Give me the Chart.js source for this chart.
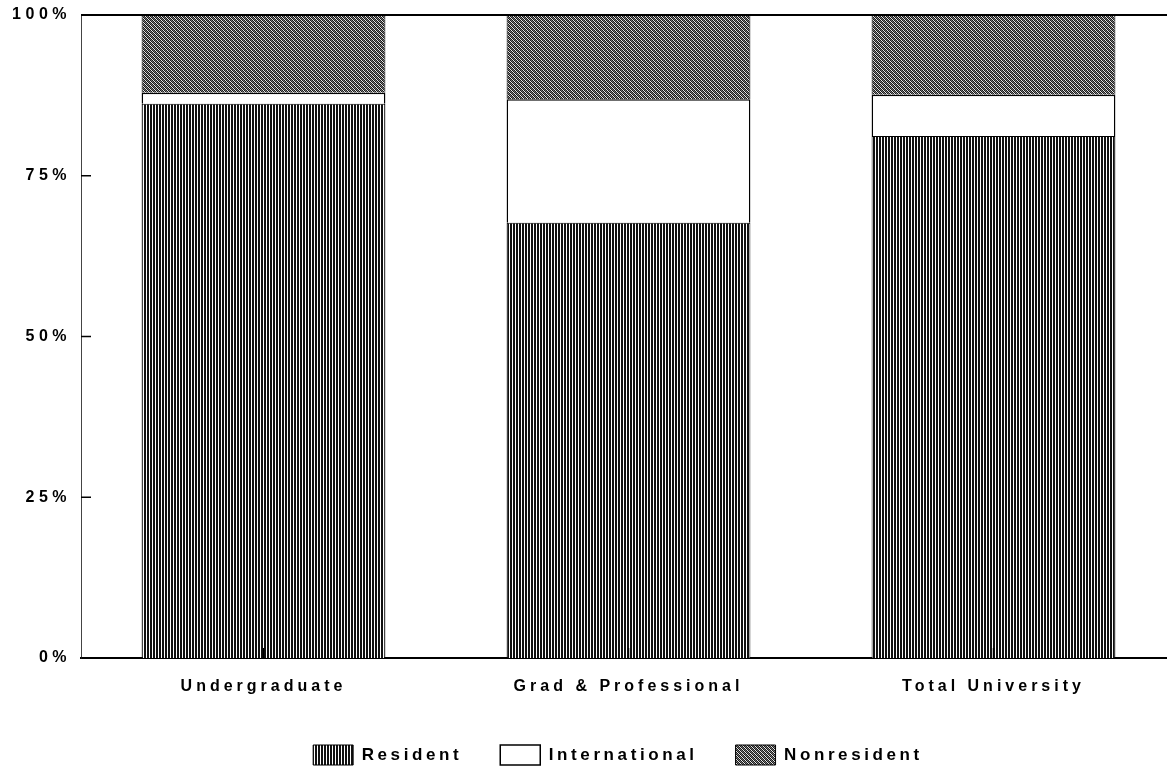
<!DOCTYPE html>
<html>
<head>
<meta charset="utf-8">
<script src="https://cdn.jsdelivr.net/npm/chart.js@4/dist/chart.umd.min.js"></script>
<style>
html,body{margin:0;padding:0;background:#fff;}
#wrap{width:1167px;height:771px;position:relative;}
</style>
</head>
<body>
<div id="wrap"><canvas id="c" width="1167" height="771"></canvas></div>
<script>
const categories = ['Undergraduate', 'Grad & Professional', 'Total University'];
const resident = [86.2, 67.7, 81.2];
const international = [1.7, 19.2, 6.4];
const nonresident = [12.1, 13.1, 12.4];
const yTicks = [0, 25, 50, 75, 100];

function makePattern(w, h, cells) {
  const cv = document.createElement('canvas');
  cv.width = w; cv.height = h;
  const c = cv.getContext('2d');
  for (let y = 0; y < h; y++) for (let x = 0; x < w; x++) {
    c.fillStyle = cells[y][x];
    c.fillRect(x, y, 1, 1);
  }
  return c.createPattern(cv, 'repeat');
}
const stripe = makePattern(3, 1, [['#111', '#111', '#fff']]);
const K = '#1a1a1a', W = '#e8e8e8', G = '#777';
const dither = makePattern(4, 4, [
  [K, W, K, G],
  [G, K, W, K],
  [K, G, K, W],
  [W, K, G, K]
]);

function withSpacing(obj, name, sp) {
  const orig = obj[name];
  obj[name] = function(...args) {
    const ctx = this.ctx;
    const prev = ctx.letterSpacing;
    ctx.letterSpacing = sp;
    const r = orig.apply(this, args);
    ctx.letterSpacing = prev;
    return r;
  };
}

const LEGEND_H = 64;
const PLOT_RIGHT = 1176; // plot frame continues just past the picture edge
const decor = {
  id: 'decor',
  beforeLayout(chart) {
    if (chart.legend && !chart.legend._patched) {
      chart.legend._patched = true;
      const lg = chart.legend;
      const origFit = lg.fit;
      lg.fit = function() {
        const prev = this.ctx.letterSpacing;
        this.ctx.letterSpacing = '3.6px';
        origFit.call(this);
        this.ctx.letterSpacing = prev;
        this.height = LEGEND_H;
      };
      withSpacing(lg, 'draw', '3.6px');
    }
    ['x', 'y'].forEach(k => {
      const s = chart.scales[k];
      if (s && !s._patched) {
        s._patched = true;
        withSpacing(s, 'draw', k === 'x' ? '4px' : '4.5px');
      }
    });
  },
  afterLayout(chart) {
    const x = chart.scales.x;
    x.right = PLOT_RIGHT;
    x.width = x.right - x.left;
    x.configure();
    chart.chartArea.right = PLOT_RIGHT;
    chart.chartArea.width = PLOT_RIGHT - chart.chartArea.left;
  },
  afterDraw(chart) {
    const {ctx, chartArea: a, scales} = chart;
    ctx.save();
    ctx.strokeStyle = '#000';
    ctx.lineWidth = 2;
    ctx.beginPath(); ctx.moveTo(a.left, a.top); ctx.lineTo(a.right, a.top); ctx.stroke();
    ctx.lineWidth = 1.5;
    yTicks.forEach(v => {
      const y = scales.y.getPixelForValue(v);
      ctx.beginPath(); ctx.moveTo(a.left, y); ctx.lineTo(a.left + 10, y); ctx.stroke();
    });
    categories.forEach((c, i) => {
      const x = scales.x.getPixelForValue(i);
      ctx.beginPath(); ctx.moveTo(x, a.bottom); ctx.lineTo(x, a.bottom - 10); ctx.stroke();
    });
    ctx.restore();
  }
};

const font = {family: '"Liberation Sans", Arial, sans-serif', weight: 'bold'};

new Chart(document.getElementById('c'), {
  type: 'bar',
  data: {
    labels: categories,
    datasets: [
      {label: 'Resident', data: resident, backgroundColor: stripe, borderColor: '#000', borderWidth: 1},
      {label: 'International', data: international, backgroundColor: '#fff', borderColor: '#000', borderWidth: 1.5},
      {label: 'Nonresident', data: nonresident, backgroundColor: dither, borderColor: '#000', borderWidth: 1}
    ]
  },
  options: {
    responsive: false,
    animation: false,
    devicePixelRatio: 1,
    datasets: {bar: {categoryPercentage: 1.0, barPercentage: 0.668}},
    layout: {padding: {top: 15, right: 12, left: 0, bottom: 0}},
    plugins: {
      tooltip: {enabled: false},
      legend: {
        position: 'bottom',
        fullSize: false,
        labels: {
          color: '#000',
          font: {...font, size: 17},
          boxWidth: 40, boxHeight: 20,
          padding: 38,
          useBorderRadius: false
        }
      }
    },
    scales: {
      x: {
        stacked: true,
        grid: {display: false, drawTicks: false},
        border: {display: true, color: '#000', width: 2},
        ticks: {color: '#000', font: {...font, size: 16}, padding: 19},
        afterFit(s) { s.height = 49; s.paddingLeft = 0; s.paddingRight = 0; }
      },
      y: {
        stacked: true,
        min: 0, max: 100,
        grid: {display: false, drawTicks: false},
        border: {display: true, color: '#444', width: 1, dash: [4, 2]},
        afterBuildTicks(s) { s.ticks = yTicks.map(v => ({value: v})); },
        ticks: {
          color: '#000', font: {...font, size: 16}, padding: 10,
          callback: v => v + '%'
        },
        afterFit(s) { s.width = 81; s.paddingTop = 0; s.paddingBottom = 0; }
      }
    }
  },
  plugins: [decor]
});
</script>
</body>
</html>
